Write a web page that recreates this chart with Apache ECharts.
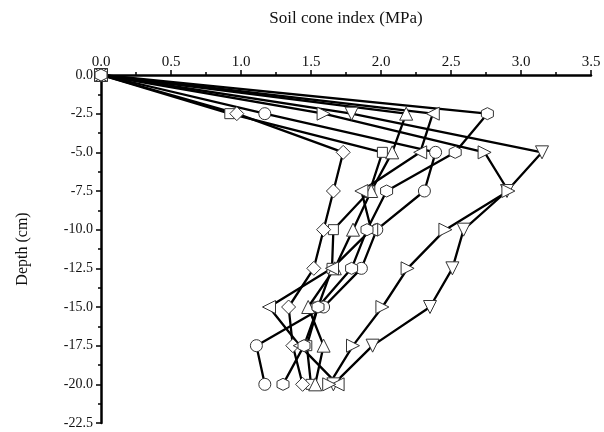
<!DOCTYPE html>
<html>
<head>
<meta charset="utf-8">
<script src="https://cdn.jsdelivr.net/npm/echarts@6/dist/echarts.min.js"></script>
<style>html,body{margin:0;padding:0;background:#fff}#c{width:604px;height:432px}</style>
</head>
<body>
<div id="c"></div>
<script>
const depths   = [0, -2.5, -5, -7.5, -10, -12.5, -15, -17.5, -20];
const square   = [0, 0.92, 2.01, 1.92, 1.66, 1.65, 1.55, 1.47, 1.50];
const circle   = [0, 1.17, 2.39, 2.31, 1.97, 1.86, 1.59, 1.11, 1.17];
const triUp    = [0, 2.18, 2.08, 1.93, 1.80, 1.67, 1.48, 1.59, 1.53];
const triDown  = [0, 1.79, 3.15, 2.90, 2.59, 2.51, 2.35, 1.94, 1.66];
const diamond  = [0, 0.97, 1.73, 1.66, 1.59, 1.52, 1.34, 1.37, 1.44];
const triLeft  = [0, 2.37, 2.28, 1.86, 1.93, 1.65, 1.20, 1.42, 1.69];
const triRight = [0, 1.59, 2.74, 2.91, 2.46, 2.19, 2.01, 1.80, 1.63];
const hexagon  = [0, 2.76, 2.53, 2.04, 1.90, 1.79, 1.55, 1.45, 1.30];
const xTicks = ['0.0','0.5','1.0','1.5','2.0','2.5','3.0','3.5'];

const hexPath = 'path://M0,-1 L0.866,-0.5 L0.866,0.5 L0,1 L-0.866,0.5 L-0.866,-0.5 Z';
const font = 'Liberation Serif';

function mk(name, vals, symbol, size, rot) {
  return {
    name, type: 'line',
    data: vals.map((v, i) => [v, depths[i]]),
    symbol, symbolSize: size, symbolRotate: rot || 0,
    showAllSymbol: true,
    lineStyle: {color: '#000', width: 2.3},
    itemStyle: {color: '#fff', borderColor: '#333', borderWidth: 1},
    emphasis: {disabled: true},
    animation: false
  };
}

const chart = echarts.init(document.getElementById('c'));
chart.setOption({
  backgroundColor: '#fff',
  animation: false,
  grid: {left: 101, right: 13, top: 75, bottom: 9},
  xAxis: {
    type: 'value', position: 'top', min: 0, max: 3.5, interval: 0.5,
    name: 'Soil cone index (MPa)', nameLocation: 'middle', nameGap: 48,
    nameTextStyle: {fontFamily: font, fontSize: 17, color: '#111'},
    axisLine: {show: true, lineStyle: {color: '#000', width: 2.5}},
    axisTick: {show: true, inside: false, length: 5, lineStyle: {color: '#000', width: 1.5}},
    minorTick: {show: true, splitNumber: 2, length: 3, lineStyle: {color: '#000', width: 1.5}},
    axisLabel: {fontFamily: font, fontSize: 15, color: '#111', margin: 5,
      formatter: v => xTicks[Math.round(v / 0.5)]},
    splitLine: {show: false}
  },
  yAxis: {
    type: 'value', min: -22.5, max: 0, interval: 2.5,
    name: 'Depth (cm)', nameLocation: 'middle', nameGap: 70, nameRotate: 90,
    nameTextStyle: {fontFamily: font, fontSize: 16, color: '#111'},
    axisLine: {show: true, onZero: false, lineStyle: {color: '#000', width: 2.5}},
    axisTick: {show: true, inside: false, length: 5, lineStyle: {color: '#000', width: 1.5}},
    minorTick: {show: true, splitNumber: 2, length: 3, lineStyle: {color: '#000', width: 1.5}},
    axisLabel: {fontFamily: font, fontSize: 14, color: '#111', margin: 8,
      formatter: v => v.toFixed(1)},
    splitLine: {show: false}
  },
  series: [
    mk('square', square, 'rect', 10),
    mk('circle', circle, 'circle', 12),
    mk('triUp', triUp, 'triangle', 13),
    mk('triDown', triDown, 'triangle', 13, 180),
    mk('diamond', diamond, 'diamond', 14),
    mk('triLeft', triLeft, 'triangle', 13, 90),
    mk('triRight', triRight, 'triangle', 13, -90),
    mk('hexagon', hexagon, hexPath, 12)
  ]
});
</script>
</body>
</html>
